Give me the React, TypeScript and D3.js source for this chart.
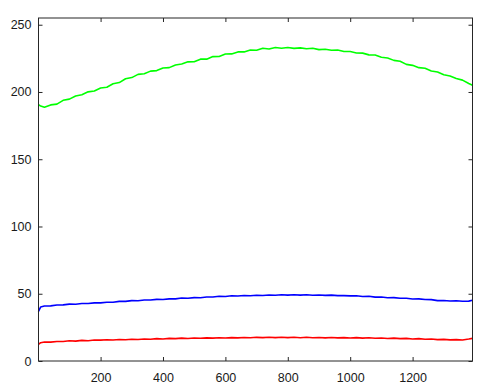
import * as d3 from "d3";
import { useEffect, useRef } from "react";

// sample positions along the profile (pixel column)
const xs = [1, 8, ...d3.range(20, 1400, 20), 1392];

const greenValues = [
  190.6, 189.5, 188.6, 190.4, 191.0, 193.8, 194.7, 197.0, 197.9, 200.1,
  200.7, 202.9, 203.5, 206.1, 207.0, 209.8, 210.7, 213.1, 213.5, 215.5,
  215.9, 217.8, 218.1, 220.1, 220.8, 222.4, 222.5, 224.4, 224.4, 226.3,
  226.4, 228.2, 228.3, 229.8, 229.8, 231.2, 231.0, 232.5, 232.0, 233.1,
  232.5, 233.1, 232.4, 232.8, 232.1, 232.5, 231.5, 231.8, 231.0, 231.2,
  230.1, 230.1, 229.0, 228.9, 227.6, 227.5, 225.8, 225.3, 223.5, 222.8,
  220.5, 219.8, 218.1, 217.6, 215.6, 214.8, 212.8, 211.9, 210.0, 208.8,
  206.3, 205.0,
];

const blueValues = [
  36.8, 40.2, 40.9, 41.0, 41.6, 41.7, 42.3, 42.2, 42.7, 42.7,
  43.2, 43.2, 43.7, 43.7, 44.3, 44.3, 44.9, 44.8, 45.4, 45.3,
  45.8, 45.7, 46.2, 46.2, 46.8, 46.6, 47.1, 47.0, 47.6, 47.6,
  48.1, 48.0, 48.5, 48.3, 48.7, 48.5, 48.9, 48.7, 49.1, 48.9,
  49.2, 49.0, 49.3, 49.0, 49.2, 48.9, 49.1, 48.8, 49.0, 48.6,
  48.6, 48.4, 48.5, 48.0, 48.1, 47.5, 47.6, 47.0, 47.1, 46.6,
  46.6, 46.1, 46.2, 45.7, 45.6, 44.9, 45.0, 44.6, 44.8, 44.4,
  44.5, 45.2,
];

const redValues = [
  12.4, 13.6, 14.1, 14.0, 14.5, 14.5, 15.0, 14.8, 15.3, 15.1,
  15.6, 15.5, 15.8, 15.6, 16.0, 15.8, 16.2, 16.0, 16.4, 16.2,
  16.6, 16.4, 16.8, 16.6, 17.0, 16.7, 17.1, 16.9, 17.2, 17.0,
  17.3, 17.1, 17.4, 17.2, 17.5, 17.3, 17.6, 17.4, 17.7, 17.4,
  17.7, 17.4, 17.7, 17.3, 17.6, 17.3, 17.5, 17.2, 17.5, 17.2,
  17.4, 17.1, 17.4, 17.0, 17.3, 16.9, 17.1, 16.7, 17.0, 16.6,
  16.8, 16.4, 16.6, 16.2, 16.3, 15.9, 16.1, 15.7, 15.9, 15.6,
  16.3, 16.8,
];

const series = [
  { name: "green", color: "#00ff00", values: greenValues },
  { name: "blue", color: "#0000ff", values: blueValues },
  { name: "red", color: "#ff0000", values: redValues },
];

const xTicks = [200, 400, 600, 800, 1000, 1200];
const yTicks = [0, 50, 100, 150, 200, 250];

const W = 489;
const H = 391;
const margin = { top: 18, right: 16.5, bottom: 30, left: 38.5 };

export default function App() {
  const ref = useRef<SVGSVGElement>(null);

  useEffect(() => {
    const svg = d3.select(ref.current);
    svg.selectAll("*").remove();

    const x = d3.scaleLinear().domain([1, 1392]).range([margin.left, W - margin.right]);
    const y = d3.scaleLinear().domain([0, 255]).range([H - margin.bottom, margin.top]);

    const line = d3
      .line<number>()
      .x((_, i) => x(xs[i]))
      .y((d) => y(d));

    series.forEach((s) => {
      svg.append("path")
        .datum(s.values)
        .attr("fill", "none")
        .attr("stroke", s.color)
        .attr("stroke-width", 1.6)
        .attr("stroke-linejoin", "round")
        .attr("d", line);
    });

    const tickLen = 4;
    const axisColor = "#262626";

    // box
    svg.append("rect")
      .attr("x", margin.left)
      .attr("y", margin.top)
      .attr("width", W - margin.left - margin.right)
      .attr("height", H - margin.top - margin.bottom)
      .attr("fill", "none")
      .attr("stroke", axisColor)
      .attr("stroke-width", 1);

    const fmt = d3.format("d");
    const bottom = svg.append("g")
      .attr("transform", `translate(0,${H - margin.bottom})`)
      .call(d3.axisBottom(x).tickValues(xTicks).tickFormat((d) => fmt(d as number)).tickSizeInner(-tickLen).tickSizeOuter(0).tickPadding(12));
    const top = svg.append("g")
      .attr("transform", `translate(0,${margin.top})`)
      .call(d3.axisTop(x).tickValues(xTicks).tickSizeInner(-tickLen).tickSizeOuter(0).tickFormat(() => ""));
    const left = svg.append("g")
      .attr("transform", `translate(${margin.left},0)`)
      .call(d3.axisLeft(y).tickValues(yTicks).tickFormat((d) => fmt(d as number)).tickSizeInner(-tickLen).tickSizeOuter(0).tickPadding(7));
    const right = svg.append("g")
      .attr("transform", `translate(${W - margin.right},0)`)
      .call(d3.axisRight(y).tickValues(yTicks).tickSizeInner(-tickLen).tickSizeOuter(0).tickFormat(() => ""));

    [bottom, top, left, right].forEach((g) => {
      g.select(".domain").remove();
      g.selectAll("line").attr("stroke", axisColor);
      g.selectAll("text")
        .attr("fill", "#1a1a1a")
        .style("font-family", "Arial, 'Liberation Sans', sans-serif")
        .style("font-size", "12.5px");
    });
  }, []);

  return (
    <svg
      ref={ref}
      width={W}
      height={H}
      style={{ position: "absolute", left: 0, top: 0, background: "#fff" }}
    />
  );
}
